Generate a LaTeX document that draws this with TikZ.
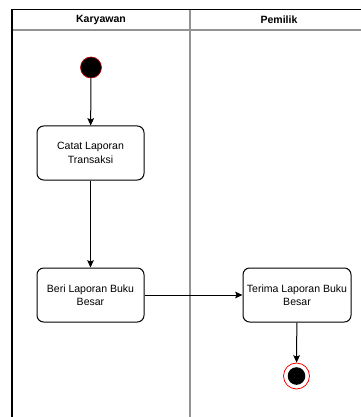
\documentclass[tikz,border=0pt]{standalone}
\usepackage{fontspec}
\setmainfont{Liberation Sans}
\usetikzlibrary{arrows.meta}
\begin{document}
\begin{tikzpicture}[x=0.75pt, y=-0.75pt,
    activity/.style={draw, rounded corners=5pt, minimum width=80.25pt, minimum height=40.5pt,
        inner sep=1pt, align=center, font=\fontsize{7.9}{10}\selectfont, line width=0.75pt},
    flow/.style={-{Stealth[length=5.5pt, width=5pt, inset=1pt]}, line width=0.75pt},
    lane/.style={gray!85, line width=1.5pt}]
    \useasboundingbox (0,0) rectangle (360,417);

    % Swimlane frame
    \draw[lane] (12,30) -- (370,30);
    \draw[lane] (190,9.5) -- (190,420);
    \draw[line width=1.2pt] (12,420) -- (12,9.5) -- (370,9.5);
    \node[font=\bfseries\fontsize{7.9}{10}\selectfont] (karyawan) at (101,20) {Karyawan};
    \node[font=\bfseries\fontsize{7.9}{10}\selectfont] (pemilik) at (279,20) {Pemilik};

    % Start point
    \node[circle, fill=black, draw=red!70!black, line width=0.5pt, minimum size=15.75pt, inner sep=0pt] (start) at (91,67.5) {};

    % Activities
    \node[activity] (catat) at (90.5,153) {Catat Laporan\\Transaksi};
    \node[activity] (beri) at (90.5,295) {Beri Laporan Buku\\Besar};
    \node[activity, minimum width=81pt] (terima) at (297,295) {Terima Laporan Buku\\Besar};

    % End point
    \node[circle, draw=red, line width=0.6pt, minimum size=19.5pt, inner sep=0pt] (stop) at (296.5,376) {};
    \fill[black] (stop.center) circle (6.6pt);

    % Flows
    \draw[flow] (start) -- (catat);
    \draw[flow] (catat) -- (beri);
    \draw[flow] (beri) -- (terima);
    \draw[flow] (terima) -- (stop);
\end{tikzpicture}
\end{document}
